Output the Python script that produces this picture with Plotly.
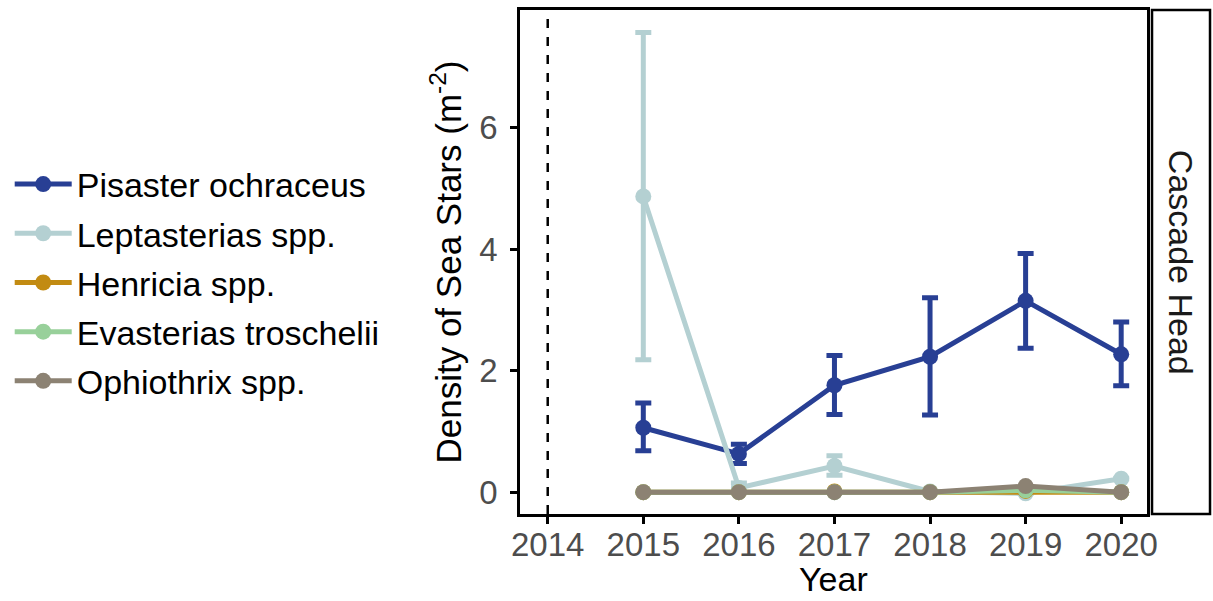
import plotly.graph_objects as go

years = [2015, 2016, 2017, 2018, 2019, 2020]
species = ["Pisaster ochraceus", "Leptasterias spp.", "Henricia spp.",
           "Evasterias troschelii", "Ophiothrix spp."]
colors = ["#283F94", "#B4D0D2", "#C28B12", "#98D09A", "#8C8273"]

pisaster_mean = [1.06, 0.63, 1.76, 2.23, 3.15, 2.27]
pisaster_lo = [0.68, 0.47, 1.28, 1.27, 2.37, 1.75]
pisaster_hi = [1.47, 0.79, 2.25, 3.20, 3.93, 2.80]

lepta_mean = [4.87, 0.07, 0.43, 0.01, -0.02, 0.22]
lepta_lo = [2.18, 0.00, 0.28, 0.01, -0.02, 0.22]
lepta_hi = [7.57, 0.15, 0.60, 0.01, -0.02, 0.22]

henricia_mean = [0.0, 0.0, 0.01, 0.0, 0.02, 0.0]
evasterias_mean = [0.0, 0.0, 0.0, 0.0, 0.03, 0.0]
ophiothrix_mean = [0.0, 0.0, 0.0, 0.0, 0.10, 0.0]

site = "Cascade Head"
x_title = "Year"
y_title = "Density of Sea Stars (m<sup>-2</sup>)"
disturbance_year = 2014

FONT = "Liberation Sans, Arial, sans-serif"

fig = go.Figure()

def add(name, color, mean, lo=None, hi=None):
    err = None
    if lo is not None:
        err = dict(type="data", symmetric=False,
                   array=[h - m for h, m in zip(hi, mean)],
                   arrayminus=[m - l for m, l in zip(mean, lo)],
                   color=color, thickness=5, width=8)
    fig.add_trace(go.Scatter(x=years, y=mean, name=name, mode="lines+markers",
                             legendgroup=name,
                             line=dict(color=color, width=5),
                             marker=dict(color=color, size=16),
                             error_y=err))

add(species[0], colors[0], pisaster_mean, pisaster_lo, pisaster_hi)
add(species[1], colors[1], lepta_mean, lepta_lo, lepta_hi)
add(species[2], colors[2], henricia_mean)
add(species[3], colors[3], evasterias_mean)
add(species[4], colors[4], ophiothrix_mean)

fig.add_vline(x=disturbance_year, line=dict(color="black", width=2.5, dash="dash"))

# facet strip
fig.add_shape(type="rect", xref="paper", yref="paper", x0=1.008, x1=1.1005, y0=0, y1=1,
              line=dict(color="black", width=2.5), fillcolor="white", layer="below")
fig.add_annotation(text=site, xref="paper", yref="paper", x=1.0545, y=0.5,
                   xanchor="center", yanchor="middle",
                   showarrow=False, textangle=90,
                   font=dict(family=FONT, size=34, color="#1A1A1A"))

# x-axis title
fig.add_annotation(text=x_title, xref="paper", yref="paper", x=0.5, y=-0.171,
                   xanchor="center", yanchor="bottom", showarrow=False,
                   font=dict(family=FONT, size=34, color="black"))

axis_common = dict(showline=True, linecolor="black", linewidth=2.5, mirror=True,
                   ticks="outside", ticklen=7, tickwidth=2.5, tickcolor="black",
                   showgrid=False, zeroline=False, automargin=False,
                   tickfont=dict(family=FONT, size=33, color="#4D4D4D"))

fig.update_xaxes(range=[2013.71, 2020.27], tickmode="array",
                 tickvals=[2014, 2015, 2016, 2017, 2018, 2019, 2020],
                 ticklabelstandoff=-7,
                 **axis_common)
fig.update_yaxes(range=[-0.36, 7.94], tickmode="array", tickvals=[0, 2, 4, 6],
                 ticklabelstandoff=6,
                 title=dict(text=y_title,
                            font=dict(family=FONT, size=35, color="black"), standoff=8),
                 **axis_common)

fig.update_layout(
    width=1213, height=601,
    margin=dict(l=520, r=66, t=10, b=87),
    plot_bgcolor="white", paper_bgcolor="white",
    legend=dict(xref="container", yref="container", x=0.008, y=0.53,
                xanchor="left", yanchor="middle", itemwidth=57,
                tracegroupgap=2,
                font=dict(family=FONT, size=34, color="black"),
                bgcolor="rgba(0,0,0,0)"),
    font=dict(family=FONT),
)

fig.write_html("out.html")
